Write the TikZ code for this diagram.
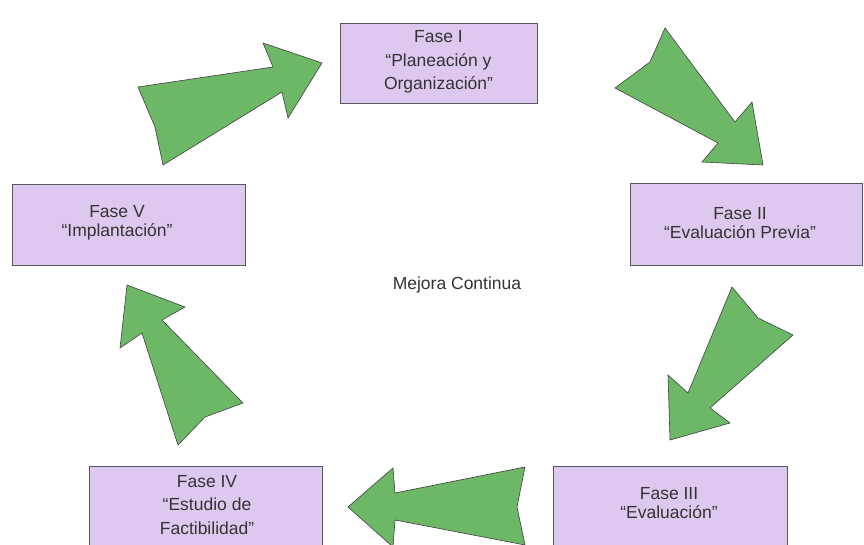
\documentclass[tikz,border=0pt]{standalone}
\usepackage{fontspec}
\setmainfont{Liberation Sans}
\begin{document}
\begin{tikzpicture}[x=1pt,y=-1pt,
  phase/.style={draw=black!65, line width=0.9pt, fill=lavender, inner sep=0pt},
  phasetext/.style={align=center, font=\fontsize{17.5}{23.5}\selectfont, text=black!80},
  shorttext/.style={align=center, font=\fontsize{17.5}{19}\selectfont, text=black!80},
  bigarrow/.style={draw=black!75, line width=0.6pt, fill=leafgreen, line join=miter}]
\definecolor{lavender}{HTML}{DFC8EF}
\definecolor{leafgreen}{HTML}{6DB866}
\useasboundingbox (0,0) rectangle (864,545);

% phase boxes
\path[phase] (340,23) rectangle (537,103);
\path[phase] (630,183) rectangle (862,265);
\path[phase] (553,466) rectangle (787,560);
\path[phase] (89,466) rectangle (322,560);
\path[phase] (12,184) rectangle (245,265);

\node[phasetext] (t1) at (438.5,62) {Fase I\\“Planeación y\\Organización”};
\node[shorttext] (t2) at (740,223) {Fase II\\“Evaluación Previa”};
\node[shorttext] (t3) at (669,503) {Fase III\\“Evaluación”};
\node[phasetext] (t4) at (207,505) {Fase IV\\“Estudio de\\Factibilidad”};
\node[shorttext] (t5) at (117,223) {Fase V\\“Implantación”};

\node[font=\fontsize{17.5}{20}\selectfont, text=black!80] (center) at (457,285) {Mejora Continua};

% block arrows between phases
\draw[bigarrow] (138,87) -- (273,67) -- (263,43) -- (322,63) -- (288,118) -- (282,92)
  -- (163,165) -- (155,127) -- cycle;
\draw[bigarrow] (665,28) -- (735,122) -- (752,102) -- (763,165) -- (702,162) -- (718,143)
  -- (615,88) -- (650,62) -- cycle;
\draw[bigarrow] (732,287) -- (758,318) -- (793,335) -- (710,408) -- (730,423) -- (670,440)
  -- (668,375) -- (688,393) -- cycle;
\draw[bigarrow] (348,507) -- (393,468) -- (395,493) -- (525,467) -- (517,507) -- (525,545)
  -- (395,520) -- (393,547) -- cycle;
\draw[bigarrow] (127,285) -- (185,307) -- (162,320) -- (243,403) -- (205,417) -- (178,445)
  -- (142,333) -- (120,348) -- cycle;
\end{tikzpicture}
\end{document}
